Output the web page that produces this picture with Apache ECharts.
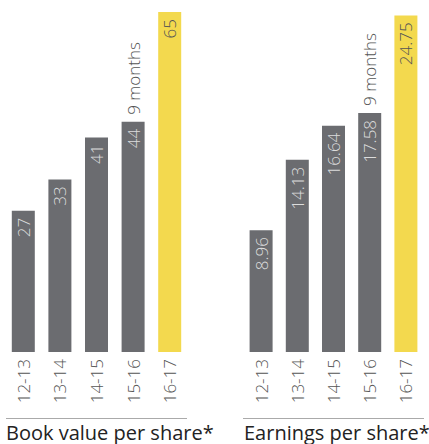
<!DOCTYPE html>
<html><head><meta charset="utf-8">
<script src="https://cdn.jsdelivr.net/npm/echarts@6/dist/echarts.min.js"></script>
<style>html,body{margin:0;padding:0;background:#fff}#c{width:429px;height:444px}</style>
</head><body><div id="c"></div>
<script>
const categories = ['12-13','13-14','14-15','15-16','16-17'];
const bookValue = [27, 33, 41, 44, 65];
const earnings = [8.96, 14.13, 16.64, 17.58, 24.75];
const bookLabels = ['27','33','41','44','65'];
const earnLabels = ['8.96','14.13','16.64','17.58','24.75'];
const noteLabels = ['','','','9 months',''];
const titles = ['Book value per share*', 'Earnings per share*'];

const GREY = '#6b6c70', YELLOW = '#f3d94e';
const FONT = 'Open Sans';

function barData(vals, labels) {
  return vals.map((v, i) => ({
    value: v,
    itemStyle: { color: i === vals.length - 1 ? YELLOW : GREY },
    label: { color: i === vals.length - 1 ? '#555' : '#dcdcdc', formatter: labels[i] }
  }));
}
function noteData(vals) {
  return vals.map((v, i) => ({ value: v, label: { formatter: noteLabels[i] || '' } }));
}

const chart = echarts.init(document.getElementById('c'), null, { renderer: 'svg' });
const grids = [
  { left: 5, width: 183, top: 12, bottom: 92 },
  { left: 243, width: 181, top: 12, bottom: 92 }
];
const maxes = [65, 25];
const datasets = [[bookValue, bookLabels], [earnings, earnLabels]];

const option = {
  animation: false,
  grid: grids,
  xAxis: grids.map((g, i) => ({
    type: 'category', gridIndex: i, data: categories,
    axisLine: { show: false }, axisTick: { show: false },
    axisLabel: { rotate: 90, margin: 7, color: '#555', fontSize: 17, fontFamily: FONT, fontWeight: 300 }
  })),
  yAxis: grids.map((g, i) => ({
    type: 'value', gridIndex: i, min: 0, max: maxes[i], show: false, splitLine: { show: false }
  })),
  series: [],
  title: titles.map((t, i) => ({
    text: t, left: i === 0 ? 6 : 244, top: 421, padding: 0,
    textStyle: { fontSize: 20, fontWeight: 'normal', color: '#222', fontFamily: FONT, lineHeight: 22 }
  })),
  graphic: [
    { type: 'line', shape: { x1: 6, y1: 418.5, x2: 187, y2: 418.5 }, style: { stroke: '#aaa', lineWidth: 1 } },
    { type: 'line', shape: { x1: 243, y1: 418.5, x2: 424, y2: 418.5 }, style: { stroke: '#aaa', lineWidth: 1 } }
  ]
};
datasets.forEach(([vals, labels], i) => {
  option.series.push({
    type: 'bar', xAxisIndex: i, yAxisIndex: i, barWidth: 23,
    data: barData(vals, labels),
    label: { show: true, position: 'insideTop', rotate: 90, align: 'right', verticalAlign: 'middle',
      distance: 7, fontSize: 17, fontFamily: FONT, fontWeight: 300 }
  });
  option.series.push({
    type: 'bar', xAxisIndex: i, yAxisIndex: i, barWidth: 23, barGap: '-100%',
    itemStyle: { color: 'rgba(0,0,0,0)' }, silent: true,
    data: noteData(vals),
    label: { show: true, position: 'top', rotate: 90, align: 'left', verticalAlign: 'middle',
      distance: 7, color: '#555', fontSize: 17, fontFamily: FONT, fontWeight: 300 }
  });
});
chart.setOption(option);
</script></body></html>
